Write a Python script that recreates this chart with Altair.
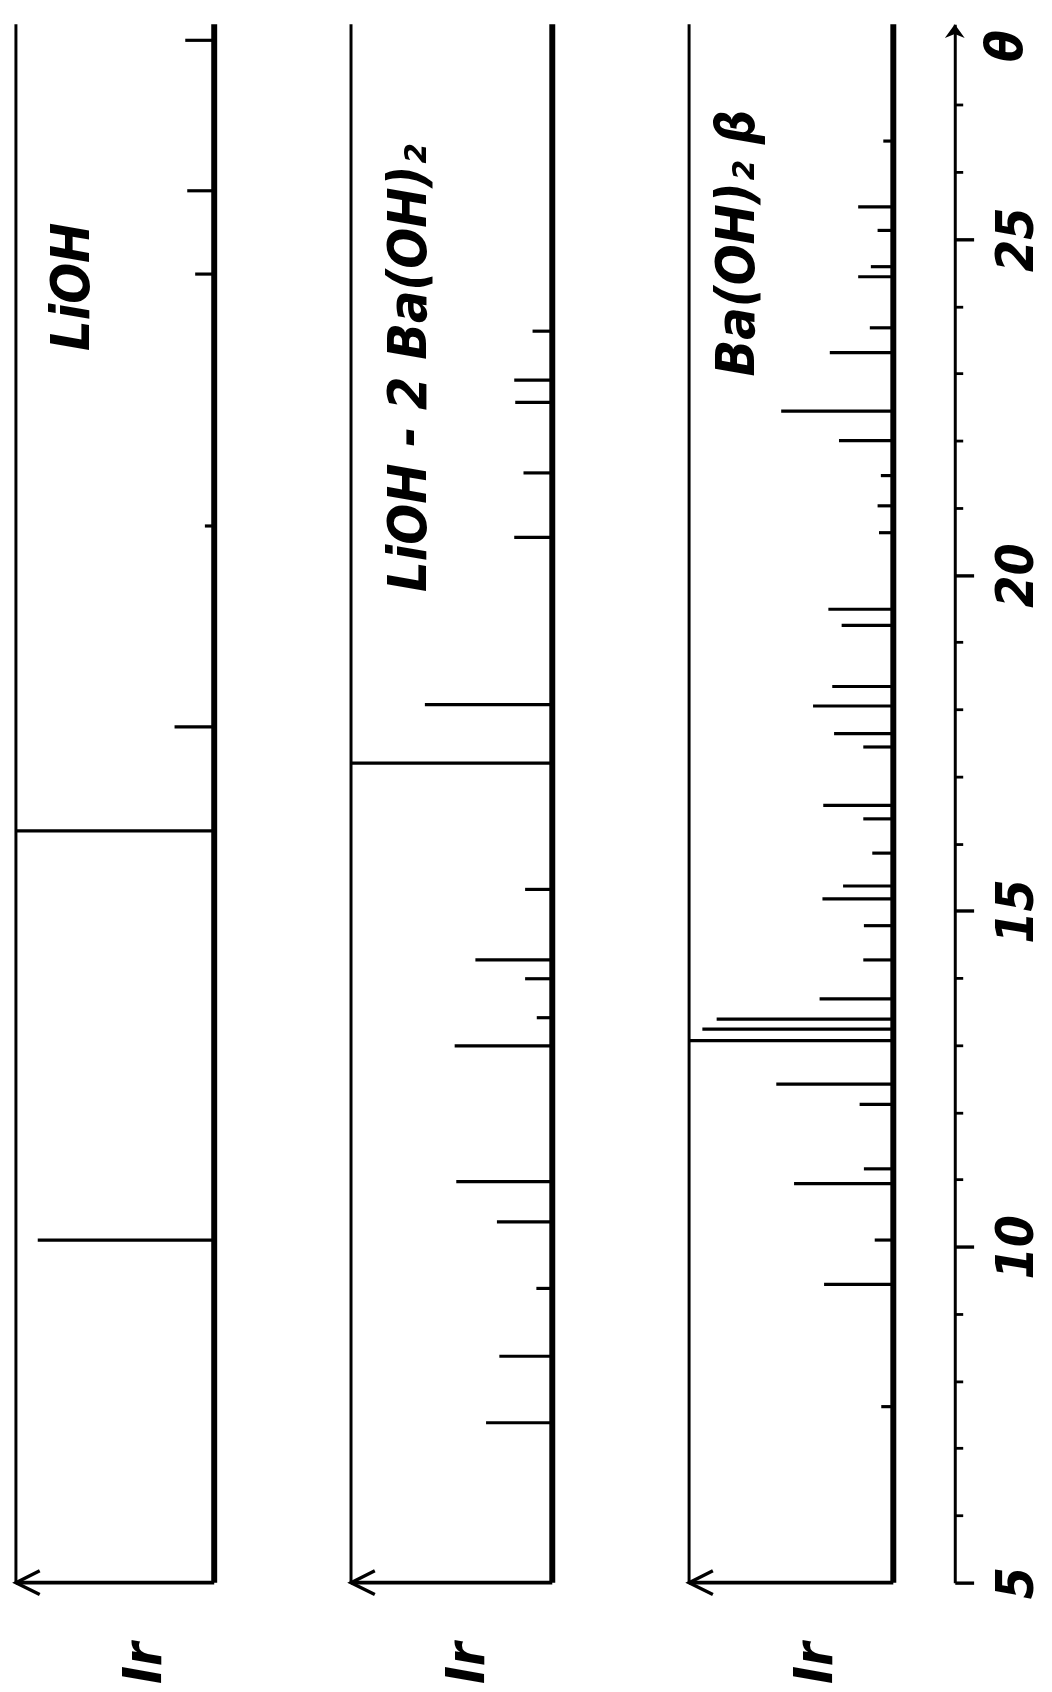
import altair as alt
import pandas as pd

# ---------------- data ----------------
lioh_theta = [10.10, 16.19, 17.74, 20.73, 24.48, 25.72, 27.96]
lioh_int = [89, 100, 20, 4.7, 9.6, 13.6, 14.6]

mix_theta = [7.38, 8.37, 9.38, 10.37, 10.97, 12.99, 13.41, 13.99, 14.27, 15.32,
             17.20, 18.07, 20.56, 21.52, 22.57, 22.90, 23.63]
mix_int = [32.9, 26.3, 7.9, 27.5, 47.7, 48.5, 7.7, 13.5, 38.2, 13.5,
           100, 63.3, 18.9, 14.3, 18.4, 18.9, 9.8]

ba_theta = [7.62, 9.44, 10.10, 10.94, 11.16, 12.12, 12.42, 13.07, 13.24, 13.39,
            13.69, 14.27, 14.78, 15.18, 15.37, 15.86, 16.37, 16.57, 17.44, 17.64,
            18.05, 18.34, 19.25, 19.49, 20.63, 21.03, 21.48, 22.00, 22.44, 23.31,
            23.68, 24.44, 24.59, 25.13, 25.48, 26.46]
ba_int = [5.9, 33.9, 9.1, 48.6, 14.4, 16.5, 57.3, 100, 93.5, 86.5,
          36.1, 14.7, 14.4, 34.7, 24.6, 10.3, 14.7, 34.3, 14.7, 29.0,
          39.3, 29.9, 25.3, 31.8, 7.0, 7.7, 6.1, 26.6, 54.9, 31.1,
          11.5, 17.2, 11.0, 7.7, 17.2, 4.9]

panel_titles = ["LiOH", "LiOH - 2 Ba(OH)₂", "Ba(OH)₂ β"]
intensity_label = "Ir"
theta_label = "θ"
theta_tick_values = list(range(5, 28))
theta_major = [5, 10, 15, 20, 25]

TH_MIN, TH_MAX = 5, 28.2
I_MIN, I_MAX = 0, 100

# ---------------- layout / style ----------------
widths = [200, 203, 206]
H = 1572
FONT = "DejaVu Sans Condensed"
TITLE_SIZE = 54
title_pos = [(71, 24.29), (70.6, 23.08), (76, 24.94)]
ir_pos = [(35, 3.8), (42, 3.8), (38, 3.8)]
THETA_LABEL_AT = 27.88

ys = alt.Scale(domain=[TH_MIN, TH_MAX], nice=False, zero=False)
xs = alt.Scale(domain=[I_MIN, I_MAX], reverse=True, nice=False)


def panel(theta, inten, title, tpos, ipos, width):
    peaks = pd.DataFrame({"theta": theta, "I": inten, "zero": [I_MIN] * len(theta)})
    frame = pd.DataFrame({"I0": [I_MIN], "I1": [I_MAX], "t0": [TH_MIN], "t1": [TH_MAX]})
    texts = pd.DataFrame({"txt": [title], "I": [tpos[0]], "theta": [tpos[1]]})
    irs = pd.DataFrame({"txt": [intensity_label], "I": [ipos[0]], "theta": [ipos[1]]})

    sticks = alt.Chart(peaks).mark_rule(color="black", strokeWidth=3.2).encode(
        y=alt.Y("theta:Q", scale=ys, axis=None),
        x=alt.X("I:Q", scale=xs, axis=None),
        x2="zero:Q",
    )
    fr = alt.Chart(frame)
    baseline = fr.mark_rule(color="black", strokeWidth=6).encode(
        x=alt.X("I0:Q", scale=xs, axis=None),
        y=alt.Y("t0:Q", scale=ys, axis=None),
        y2="t1:Q",
    )
    leftline = fr.mark_rule(color="black", strokeWidth=3).encode(
        x=alt.X("I1:Q", scale=xs, axis=None),
        y=alt.Y("t0:Q", scale=ys, axis=None),
        y2="t1:Q",
    )
    bottom = fr.mark_rule(color="black", strokeWidth=3.6).encode(
        x=alt.X("I0:Q", scale=xs, axis=None),
        x2="I1:Q",
        y=alt.Y("t0:Q", scale=ys, axis=None),
    )
    arrow = fr.mark_point(shape="M2,-1L0,0L2,1", size=576, filled=False,
                          color="black", strokeWidth=3.4, opacity=1).encode(
        x=alt.X("I1:Q", scale=xs, axis=None),
        y=alt.Y("t0:Q", scale=ys, axis=None),
    )
    ttl = alt.Chart(texts).mark_text(angle=270, align="center", baseline="middle",
                                     font=FONT, fontSize=TITLE_SIZE, fontStyle="italic",
                                     fontWeight="bold", color="black").encode(
        x=alt.X("I:Q", scale=xs, axis=None),
        y=alt.Y("theta:Q", scale=ys, axis=None),
        text="txt:N",
    )
    ir = alt.Chart(irs).mark_text(angle=270, align="center", baseline="middle",
                                  font=FONT, fontSize=54, fontStyle="italic",
                                  fontWeight="bold", color="black").encode(
        x=alt.X("I:Q", scale=xs, axis=None),
        y=alt.Y("theta:Q", scale=ys, axis=None),
        text="txt:N",
    )
    return alt.layer(leftline, bottom, sticks, baseline, arrow, ttl, ir).properties(
        width=width, height=H)


p1 = panel(lioh_theta, lioh_int, panel_titles[0], title_pos[0], ir_pos[0], widths[0])
p2 = panel(mix_theta, mix_int, panel_titles[1], title_pos[1], ir_pos[1], widths[1])
p3 = panel(ba_theta, ba_int, panel_titles[2], title_pos[2], ir_pos[2], widths[2])

major_test = "indexof([" + ",".join(str(v) for v in theta_major) + "], datum.value) >= 0"
axis_values = theta_tick_values + [THETA_LABEL_AT]
theta_axis = alt.Axis(
    orient="right",
    values=axis_values,
    format="d",
    labelExpr=("datum.value > 27.5 ? '" + theta_label + "' : (" + major_test +
               " ? datum.label : '')"),
    labelAngle=270,
    labelAlign="center",
    labelBaseline="top",
    labelPadding=18,
    labelFont=FONT,
    labelFontSize=52,
    labelFontStyle="italic",
    labelFontWeight="bold",
    labelColor="black",
    labelOverlap=False,
    labelFlush=False,
    labelBound=False,
    domainColor="black",
    domainWidth=3,
    tickColor="black",
    tickSize={"condition": {"test": major_test, "value": 19}, "value": 8},
    tickWidth={"condition": {"test": major_test, "value": 3.4}, "value": 2.8},
    tickOpacity={"condition": {"test": "datum.value > 27.5", "value": 0}, "value": 1},
    grid=False,
    title=None,
)

axis_df = pd.DataFrame({"x": [1], "t": [TH_MAX]})
p4 = alt.Chart(axis_df).mark_point(shape="M-1,1.4L0,0L1,1.4L0,1Z", size=400,
                                    filled=True, color="black", opacity=1).encode(
    x=alt.X("x:Q", scale=alt.Scale(domain=[0, 1]), axis=None),
    y=alt.Y("t:Q", scale=ys, axis=theta_axis),
).properties(width=20, height=H)

panels = alt.hconcat(p1, p2, p3, spacing=138, bounds="flush")
chart = alt.hconcat(panels, p4, spacing=39, bounds="full").properties(
    padding={"left": 1, "top": 6, "right": 2, "bottom": 2},
    background="white",
).configure_view(strokeWidth=0)

chart.save("out.html", embed_options={"renderer": "svg", "actions": False})
